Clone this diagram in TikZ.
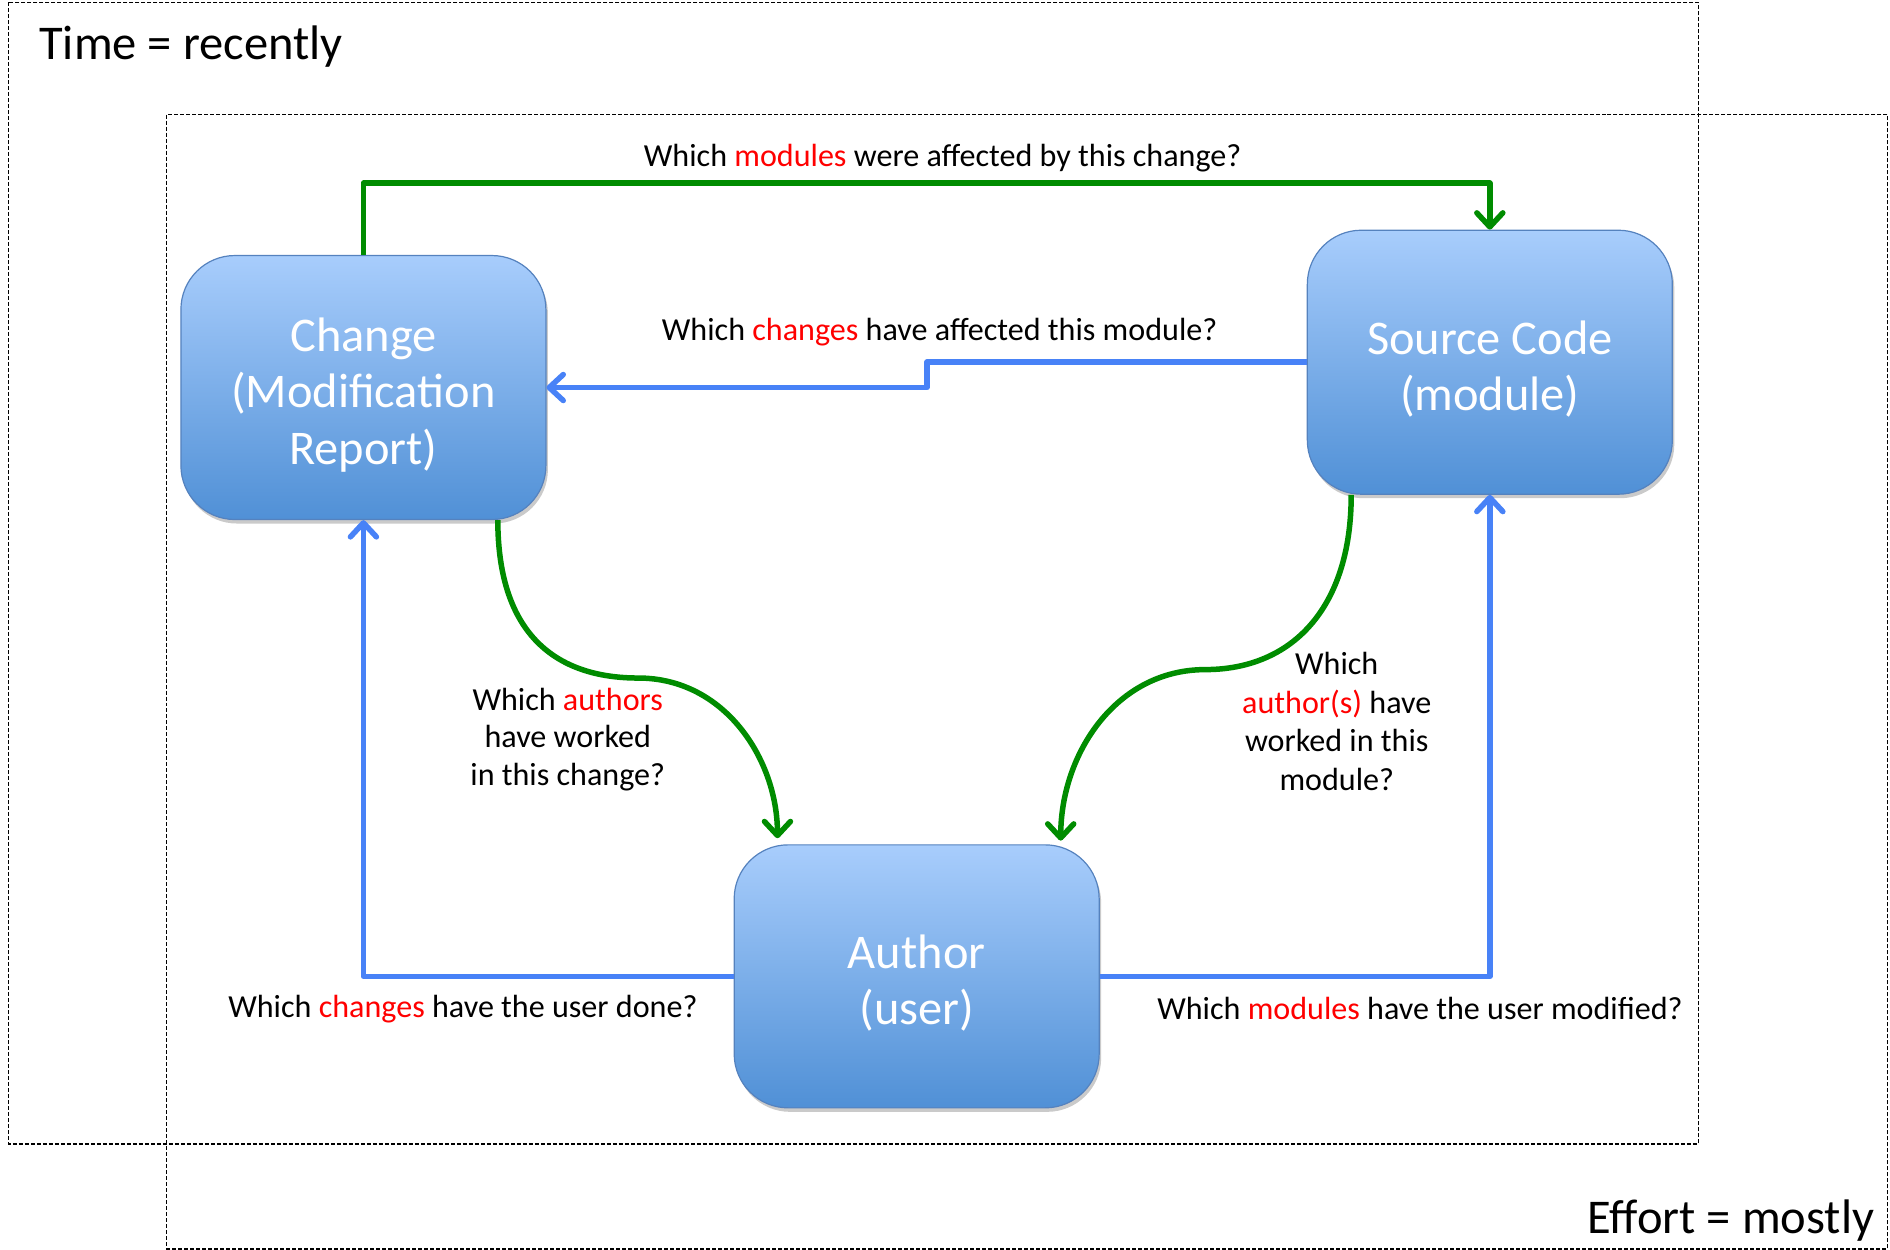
\documentclass[tikz,border=0pt]{standalone}
\usepackage{fontspec}
\setmainfont{Carlito}
\usetikzlibrary{arrows.meta,shadows,calc}
\definecolor{grn}{RGB}{0,140,0}
\definecolor{blu}{RGB}{72,130,247}
\definecolor{boxtop}{RGB}{168,205,252}
\definecolor{boxbot}{RGB}{80,144,214}
\definecolor{boxedge}{RGB}{85,130,190}
\definecolor{qred}{RGB}{255,0,0}
\newcommand{\boxtext}[1]{\raisebox{-9pt}[\height][\depth]{\begin{tabular}{@{}c@{}}#1\end{tabular}}}
\begin{document}
\begin{tikzpicture}[x=1.2054pt,y=-1.2054pt,
  entity/.style={rounded corners=54pt, draw=boxedge, line width=1.2pt,
    top color=boxtop, bottom color=boxbot, text=white,
    font=\fontsize{48.4}{56.5}\selectfont, align=center,
    minimum width=365pt, minimum height=264pt, inner sep=0pt,
    drop shadow={shadow xshift=2pt, shadow yshift=-4pt, opacity=0.35, fill=black!60}},
  qlabel/.style={font=\fontsize{32.1}{37.5}\selectfont, align=center, inner sep=0pt},
  biglabel/.style={font=\fontsize{48.5}{56}\selectfont, inner sep=0pt},
  frame/.style={draw=black, dash pattern=on 4pt off 2pt, line width=1.6pt},
  gline/.style={draw=grn, line width=5.5pt, line join=round,
    -{Straight Barb[length=14pt,width=26pt,round]}},
  bline/.style={draw=blu, line width=5.5pt, line join=round,
    -{Straight Barb[length=14pt,width=26pt,round]}}
]
\useasboundingbox (0,0) rectangle (1568,1037);

% frames
\draw[frame] (7,2) rectangle (1409,949);
\draw[frame] (138,95) rectangle (1566,1036);
\node[biglabel, anchor=base west] (time) at (32.5,49.6) {Time = recently};
\node[biglabel, anchor=base east] (effort) at (1555,1023) {Effort = mostly};

% entities
\node[entity] (change) at (301.5,321.5) {\boxtext{Change\\(Modification\\Report)}};
\node[entity] (source) at (1236,300.5) {\boxtext{Source Code\\(module)}};
\node[entity, minimum height=263pt] (author) at (760.5,810) {\boxtext{Author\\(user)}};

% helper coordinates
\coordinate (gtop) at (770,152);
\coordinate (bmid) at (769,310);

% connectors
\draw[gline] (change.north) |- (gtop) -| (source.north);
\draw[bline] (source.west) -| (bmid) |- (change.east);
\draw[bline] (author.west) -| (change.south);
\draw[bline] (author.east) -| (source.south);

\draw[gline] ($(change.south)+(111.5,0)$) .. controls ($(change.south)+(111.5,95)$) and ($(change.south)+(160,131)$) .. ($(change.south)+(228,131)$)
  .. controls ($(change.south)+(300,131)$) and ($(author.north)+(-115.5,-70)$) .. ($(author.north)+(-115.5,-5)$);
\draw[gline] ($(source.south)+(-115,0)$) .. controls ($(source.south)+(-115,95)$) and ($(source.south)+(-165,145)$) .. ($(source.south)+(-236,145)$)
  .. controls ($(source.south)+(-310,145)$) and ($(author.north)+(119.5,-75)$) .. ($(author.north)+(119.5,-3)$);

% labels
\node[qlabel, anchor=base] (l1) at (782,138) {Which \textcolor{qred}{modules} were affected by this change?};
\node[qlabel, anchor=base] (l2) at (779.5,282.7) {Which \textcolor{qred}{changes} have affected this module?};
\node[qlabel] (l3) at (471,613.5) {Which \textcolor{qred}{authors}\\have worked\\in this change?};
\node[qlabel, font=\fontsize{32.1}{38.5}\selectfont] (l4) at (1109,598.5) {Which\\\textcolor{qred}{author(s)} have\\worked in this\\module?};
\node[qlabel, anchor=base] (l5) at (384,844) {Which \textcolor{qred}{changes} have the user done?};
\node[qlabel, anchor=base] (l6) at (1178,846) {Which \textcolor{qred}{modules} have the user modified?};
\end{tikzpicture}
\end{document}
